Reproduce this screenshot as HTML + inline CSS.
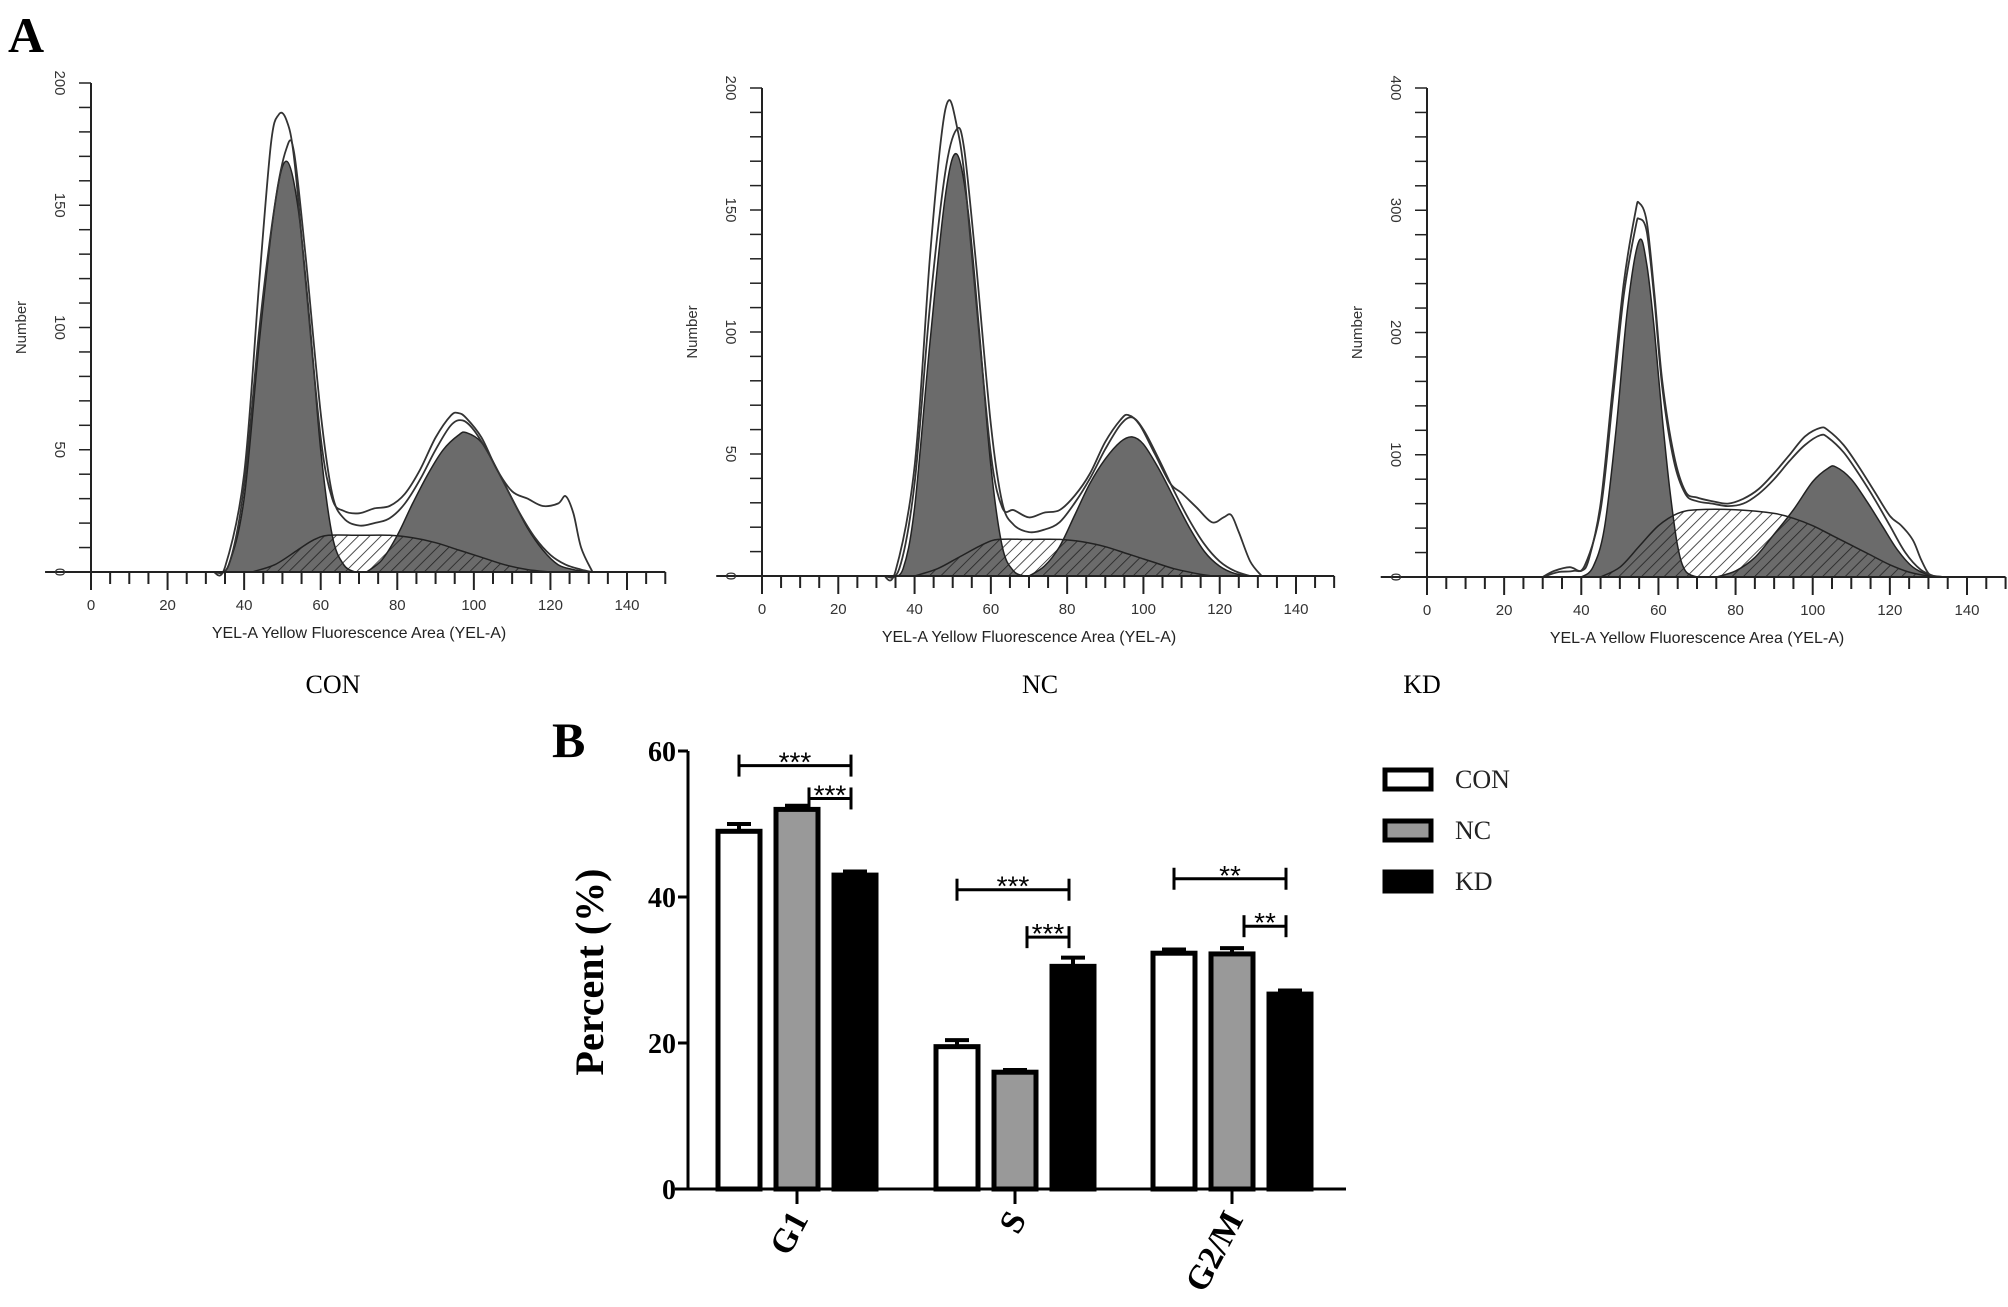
<!DOCTYPE html>
<html><head><meta charset="utf-8">
<style>
body{margin:0;background:#fff;}
svg{display:block;}
.tk{font-family:"Liberation Sans",Arial,sans-serif;font-size:15px;fill:#333;}
.ttl{font-family:"Liberation Sans",Arial,sans-serif;font-size:16px;fill:#222;}
.star{font-family:"Liberation Sans",Arial,sans-serif;font-size:28px;fill:#000;}
.serif{font-family:"Liberation Serif","Times New Roman",serif;}
</style></head>
<body>
<svg id="fig" width="2008" height="1307" viewBox="0 0 2008 1307" xmlns="http://www.w3.org/2000/svg">
<defs>
<pattern id="hatch" patternUnits="userSpaceOnUse" width="8" height="8" patternTransform="rotate(45)">
<line x1="0" y1="0" x2="0" y2="8" stroke="#222" stroke-width="1.6"/>
</pattern>
</defs>
<text x="8" y="52" class="serif" font-size="50" font-weight="bold">A</text>
<text x="552" y="757" class="serif" font-size="50" font-weight="bold">B</text>
<g id="hist"></g>
<g id="bars"></g>
</svg>
<script>
// ---------- Histogram data (x = fluorescence, y = count) ----------
const conOuterX=[32,35,40,44,47,49,51,53,56,60,63,66,70,74,78,82,86,90,94,96,98,102,106,110,114,118,122,124,126,128,131];
const conOuterY=[0,2,40,120,175,187,185,170,120,55,30,25,24,26,27,32,42,55,64,65,63,55,42,33,30,27,28,31,24,10,0];
const conInnerX=[32,36,40,44,48,51,53,56,60,63,66,70,74,78,82,86,90,94,97,100,104,108,112,116,120,124,128,131];
const conInnerY=[0,3,35,100,150,173,172,130,65,32,22,19,20,22,28,38,50,60,62,58,48,36,24,14,7,3,1,0];
const conG1X=[33,36,40,44,48,51,54,57,60,63,66,69];
const conG1Y=[0,3,30,95,150,168,150,105,50,15,3,0];
const conG2X=[72,76,80,84,88,92,96,98,102,106,110,114,118,122,126,130];
const conG2Y=[0,5,15,28,40,50,56,57,53,42,30,18,9,3,1,0];
const conSX=[42,48,54,58,62,70,78,84,90,96,102,108,114,120];
const conSY=[0,3,9,13,15,15,15,14,12,9,6,3,1,0];

const ncOuterX=[32,35,40,44,47,49,51,53,56,60,63,66,70,74,78,82,86,90,94,96,99,103,107,110,114,118,121,123,125,128,131];
const ncOuterY=[0,2,45,130,180,195,185,165,115,50,28,27,24,26,27,33,42,55,64,66,62,50,38,34,28,22,24,25,18,6,0];
const ncInnerX=[32,36,40,44,48,51,53,56,60,63,66,70,74,78,82,86,90,94,97,100,104,108,112,116,120,124,128];
const ncInnerY=[0,3,38,110,165,183,175,130,62,30,21,18,19,22,30,40,52,62,65,60,48,35,23,13,6,2,0];
const ncG1X=[34,37,40,44,48,51,54,57,60,63,66,69];
const ncG1Y=[0,3,28,95,155,173,150,100,45,12,2,0];
const ncG2X=[70,74,78,82,86,90,94,97,100,104,108,112,116,120,124,128];
const ncG2Y=[0,4,12,25,38,48,55,57,54,44,32,20,10,4,1,0];
const ncSX=[40,46,52,58,62,70,78,84,90,96,102,108,114,118];
const ncSY=[0,3,8,13,15,15,15,14,12,9,6,3,1,0];

const kdOuterX=[30,33,37,40,42,45,48,51,54,55,57,59,61,64,67,70,74,78,82,86,90,94,98,102,104,108,112,116,120,123,126,128,130,132];
const kdOuterY=[0,5,8,5,15,60,150,240,298,306,290,230,160,100,70,65,62,60,64,72,85,100,115,122,120,108,90,70,50,42,30,15,3,0];
const kdInnerX=[30,34,38,41,45,48,51,54,55,57,59,61,64,67,70,74,78,82,86,90,94,98,102,104,108,112,116,120,124,128,132];
const kdInnerY=[0,4,5,10,55,140,230,285,293,282,225,155,95,68,62,60,58,60,68,80,95,108,116,114,102,84,64,42,20,6,0];
const kdG1X=[40,43,46,49,52,55,57,59,61,63,65,67,70];
const kdG1Y=[0,8,40,120,220,275,255,200,130,70,25,5,0];
const kdG2X=[75,80,85,90,95,100,104,106,110,114,118,122,126,130,134];
const kdG2Y=[0,5,16,35,55,78,89,90,80,62,42,22,8,2,0];
const kdSX=[45,50,55,60,65,70,80,90,95,100,105,110,115,120,125,130,135];
const kdSY=[0,8,25,42,52,55,55,52,48,42,34,26,18,10,4,1,0];

const histNames=["CON","NC","KD"];
const histYMax=[200,200,400];
const histYStep=[50,50,100];
const xTickLabels=[0,20,40,60,80,100,120,140];

// ---------- Bar chart data ----------
const phases=["G1","S","G2/M"];
const groups=["CON","NC","KD"];
const conVals=[49,19.5,32.3];
const ncVals=[52,16,32.2];
const kdVals=[43,30.5,26.7];
const conErr=[1,0.9,0.5];
const ncErr=[0.5,0.3,0.8];
const kdErr=[0.5,1.2,0.5];
const yTicksB=[0,20,40,60];
const sigPhase=[0,0,1,1,2,2];
const sigFrom=[0,1,0,1,0,1];
const sigLevel=[58,53.5,41,34.5,42.5,36];
const sigText=["***","***","***","***","**","**"];

const NS="http://www.w3.org/2000/svg";
function mk(tag,attrs,parent){const e=document.createElementNS(NS,tag);for(const k in attrs)e.setAttribute(k,attrs[k]);parent.appendChild(e);return e;}

function smoothPath(pts){
  let d="M"+pts[0][0]+","+pts[0][1];
  for(let i=0;i<pts.length-1;i++){
    const p0=pts[Math.max(0,i-1)],p1=pts[i],p2=pts[i+1],p3=pts[Math.min(pts.length-1,i+2)];
    const c1x=p1[0]+(p2[0]-p0[0])/6,c1y=p1[1]+(p2[1]-p0[1])/6;
    const c2x=p2[0]-(p3[0]-p1[0])/6,c2y=p2[1]-(p3[1]-p1[1])/6;
    d+=" C"+c1x.toFixed(1)+","+c1y.toFixed(1)+" "+c2x.toFixed(1)+","+c2y.toFixed(1)+" "+p2[0].toFixed(1)+","+p2[1].toFixed(1);
  }
  return d;
}

const hist=document.getElementById('hist');
const panels=[
 {x0:91,x140:627,yTop:83,y0:572,outer:[conOuterX,conOuterY],inner:[conInnerX,conInnerY],g1:[conG1X,conG1Y],g2:[conG2X,conG2Y],s:[conSX,conSY],label:333},
 {x0:762,x140:1296,yTop:88,y0:576,outer:[ncOuterX,ncOuterY],inner:[ncInnerX,ncInnerY],g1:[ncG1X,ncG1Y],g2:[ncG2X,ncG2Y],s:[ncSX,ncSY],label:1040},
 {x0:1427,x140:1967,yTop:88,y0:577,outer:[kdOuterX,kdOuterY],inner:[kdInnerX,kdInnerY],g1:[kdG1X,kdG1Y],g2:[kdG2X,kdG2Y],s:[kdSX,kdSY],label:1422}
];
panels.forEach((P,pi)=>{
  const g=mk('g',{},hist);
  
  
  const ymax=histYMax[pi];
  const sx=v=>P.x0+(P.x140-P.x0)*v/140;
  const sy=v=>P.y0-(P.y0-P.yTop)*v/ymax;
  const pts=a=>a[0].map((x,i)=>[sx(x),sy(a[1][i])]);
  const areaD=a=>smoothPath(pts(a))+" Z";
  const sb=mk('path',{d:areaD(P.s),fill:'#fff',stroke:'none'},g);
  
  
  const g1=mk('path',{d:areaD(P.g1),fill:'#6b6b6b',stroke:'#222','stroke-width':1.5},g);
  
  
  const g2=mk('path',{d:areaD(P.g2),fill:'#6b6b6b',stroke:'#222','stroke-width':1.5},g);
  
  
  const sh=mk('path',{d:areaD(P.s),fill:'url(#hatch)',stroke:'#222','stroke-width':1.5},g);
  
  
  const l1=mk('path',{d:smoothPath(pts(P.outer)),fill:'none',stroke:'#333','stroke-width':1.8},g);
  
  
  const l2=mk('path',{d:smoothPath(pts(P.inner)),fill:'none',stroke:'#333','stroke-width':1.8},g);
  
  
  const xa=mk('line',{x1:sx(-12),y1:P.y0,x2:sx(150),y2:P.y0,stroke:'#222','stroke-width':2},g);
  
  
  const ya=mk('line',{x1:P.x0,y1:P.yTop,x2:P.x0,y2:P.y0+18,stroke:'#222','stroke-width':2},g);
  
  
  for(let v=0;v<=150;v+=5){
    const big=v%20===0;
    mk('line',{x1:sx(v),y1:P.y0,x2:sx(v),y2:P.y0+(big?18:12),stroke:'#222','stroke-width':2},g);
  }
  xTickLabels.forEach(v=>{
    const t=mk('text',{x:sx(v),y:P.y0+38,'text-anchor':'middle',class:'tk'},g);
    t.textContent=v;
    
    
  });
  for(let v=0;v<=ymax;v+=ymax/20){
    mk('line',{x1:P.x0-12,y1:sy(v),x2:P.x0,y2:sy(v),stroke:'#222','stroke-width':1.5},g);
  }
  for(let v=0;v<=ymax;v+=histYStep[pi]){
    const t=mk('text',{x:0,y:0,'text-anchor':'middle',class:'tk',transform:'translate('+(P.x0-36)+','+sy(v)+') rotate(90)'},g);
    t.textContent=v;
    
    
  }
  const yt=mk('text',{x:0,y:0,'text-anchor':'middle',class:'tk',transform:'translate('+(P.x0-65)+','+((P.y0+P.yTop)/2)+') rotate(-90)'},g);
  yt.textContent='Number';
  
  
  const xt=mk('text',{x:sx(70),y:P.y0+66,'text-anchor':'middle',class:'ttl'},g);
  xt.textContent='YEL-A Yellow Fluorescence Area (YEL-A)';
  
  
  const st=mk('text',{x:P.label,y:693,'text-anchor':'middle',class:'serif','font-size':26},g);
  st.textContent=histNames[pi];
  
  
});

// ---------- Bar chart ----------
const bars=document.getElementById('bars');
const AX=688,Y0=1189,Y60=751;
const by=v=>Y0-(Y0-Y60)*v/60;
const catX=[797,1015,1232];
const off=[-58,0,58];
const BW=42;
const fills=['#fff','#999','#000'];
const vals=[conVals,ncVals,kdVals];
const errs=[conErr,ncErr,kdErr];
phases.forEach((p,ci)=>{
  groups.forEach((gname,gi)=>{
    const cx=catX[ci]+off[gi];
    const v=vals[gi][ci],e=errs[gi][ci];
    const el=mk('line',{x1:cx,y1:by(v),x2:cx,y2:by(v+e),stroke:'#000','stroke-width':4},bars);
    
    
    const ec=mk('line',{x1:cx-12,y1:by(v+e),x2:cx+12,y2:by(v+e),stroke:'#000','stroke-width':4},bars);
    
    
    const r=mk('rect',{x:cx-BW/2,y:by(v),width:BW,height:Y0-by(v),fill:fills[gi],stroke:'#000','stroke-width':5},bars);
    
    
  });
  const tk=mk('line',{x1:catX[ci],y1:Y0,x2:catX[ci],y2:Y0+15,stroke:'#000','stroke-width':3},bars);
  
  
  const t=mk('text',{x:0,y:0,'text-anchor':'end',class:'serif','font-size':34,'font-weight':'bold',transform:'translate('+(catX[ci]+12)+','+(Y0+30)+') rotate(-62)'},bars);
  t.textContent=p;
  
  
});
const bxa=mk('line',{x1:675,y1:Y0,x2:1346,y2:Y0,stroke:'#000','stroke-width':3},bars);


const bya=mk('line',{x1:AX,y1:Y60,x2:AX,y2:Y0,stroke:'#000','stroke-width':3},bars);


yTicksB.forEach(v=>{
  mk('line',{x1:AX-10,y1:by(v),x2:AX,y2:by(v),stroke:'#000','stroke-width':3},bars);
  const t=mk('text',{x:AX-12,y:by(v)+10,'text-anchor':'end',class:'serif','font-size':28,'font-weight':'bold'},bars);
  t.textContent=v;
  
  
});
const pl=mk('text',{x:0,y:0,'text-anchor':'middle',class:'serif','font-size':40,'font-weight':'bold',transform:'translate(603,972) rotate(-90)'},bars);
pl.textContent='Percent (%)';


sigPhase.forEach((ci,i)=>{
  const x1=catX[ci]+off[sigFrom[i]]+(sigFrom[i]===1?12:0);
  const x2=catX[ci]+off[2]-4;
  const yy=by(sigLevel[i]);
  const g=mk('g',{},bars);
  
  
  mk('line',{x1:x1,y1:yy,x2:x2,y2:yy,stroke:'#000','stroke-width':3},g);
  mk('line',{x1:x1,y1:yy-11,x2:x1,y2:yy+11,stroke:'#000','stroke-width':3},g);
  mk('line',{x1:x2,y1:yy-11,x2:x2,y2:yy+11,stroke:'#000','stroke-width':3},g);
  const t=mk('text',{x:(x1+x2)/2,y:yy+6,'text-anchor':'middle',class:'star'},g);
  t.textContent=sigText[i];
});
groups.forEach((gname,gi)=>{
  const yy=770+gi*51;
  const lg=mk('g',{},bars);
  
  
  mk('rect',{x:1385,y:yy,width:46,height:19,fill:fills[gi],stroke:'#000','stroke-width':5},lg);
  const t=mk('text',{x:1455,y:yy+18,class:'serif','font-size':26,fill:'#222'},lg);
  t.textContent=gname;
});
</script>
</body></html>
